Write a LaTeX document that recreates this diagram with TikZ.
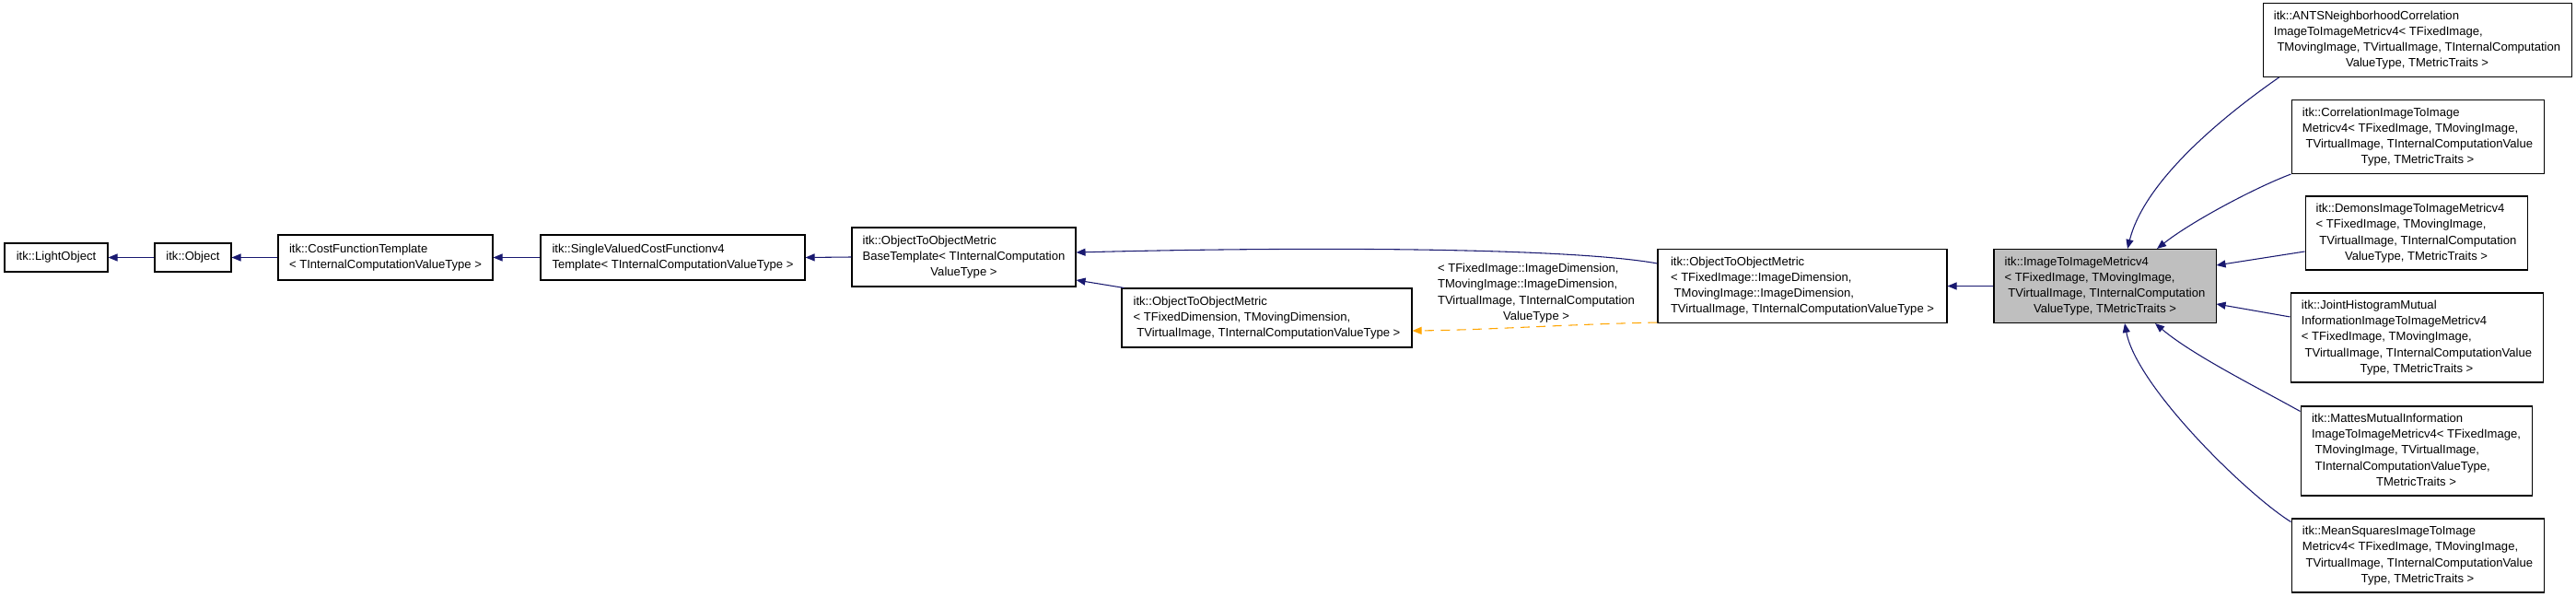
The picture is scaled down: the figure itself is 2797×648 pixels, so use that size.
\documentclass[tikz,border=0pt]{standalone}
\usepackage{fontspec}
\setmainfont{Liberation Sans}
\usetikzlibrary{arrows.meta}
\definecolor{navy}{HTML}{191970}
\definecolor{orng}{HTML}{FFA500}
\definecolor{grayfill}{HTML}{BFBFBF}
\newcommand{\tb}[1]{\begin{tabular}{@{}l@{}}#1\end{tabular}}
\newcommand{\mylast}[1]{\multicolumn{1}{@{}c@{}}{#1}}
\tikzset{
  cls/.style={draw=black, line width=0.8pt, fill=white, inner sep=0pt,
    font=\fontsize{9.8}{12.9}\selectfont},
  sz/.style 2 args={minimum width=#1*0.75pt, minimum height=#2*0.75pt},
  inh/.style={draw=navy, line width=0.8pt, -{Triangle[length=7.5pt,width=6pt]}},
  tmpl/.style={draw=orng, line width=0.8pt, dash pattern=on 7.5pt off 5.5pt,
    -{Triangle[length=7.5pt,width=6pt]}},
  lbl/.style={inner sep=0pt, font=\fontsize{9.8}{12.9}\selectfont}
}
\begin{document}
\begin{tikzpicture}[x=0.75pt,y=-0.75pt]
\useasboundingbox[fill=white] (0,0) rectangle (2797,648);

\node[cls, sz={112}{31}] (light) at (61,279.5) {\tb{itk::LightObject}};
\node[cls, sz={83}{31}] (object) at (209.5,279.5) {\tb{itk::Object}};
\node[cls, sz={233}{49}] (cost) at (418.5,279.5) {\tb{itk::CostFunctionTemplate\\\mylast{< TInternalComputationValueType >}}};
\node[cls, sz={287}{49}] (single) at (730.5,279.5) {\tb{itk::SingleValuedCostFunctionv4\\\mylast{Template< TInternalComputationValueType >}}};
\node[cls, sz={243}{64}] (base) at (1046.5,279) {\tb{itk::ObjectToObjectMetric\\BaseTemplate< TInternalComputation\\\mylast{ValueType >}}};
\node[cls, sz={315}{64}] (otomdim) at (1375.5,345) {\tb{itk::ObjectToObjectMetric\\< TFixedDimension, TMovingDimension,\\\mylast{\ TVirtualImage, TInternalComputationValueType >}}};
\node[cls, sz={314}{80}] (otomimg) at (1957,310.5) {\tb{itk::ObjectToObjectMetric\\< TFixedImage::ImageDimension,\\\ TMovingImage::ImageDimension,\\\mylast{TVirtualImage, TInternalComputationValueType >}}};
\node[cls, sz={241}{80}, fill=grayfill] (img) at (2285.5,310.5) {\tb{itk::ImageToImageMetricv4\\< TFixedImage, TMovingImage,\\\ TVirtualImage, TInternalComputation\\\mylast{ValueType, TMetricTraits >}}};

\node[cls, sz={335}{80}] (ants) at (2624.5,43.5) {\tb{itk::ANTSNeighborhoodCorrelation\\ImageToImageMetricv4< TFixedImage,\\\ TMovingImage, TVirtualImage, TInternalComputation\\\mylast{ValueType, TMetricTraits >}}};
\node[cls, sz={274}{80}] (corr) at (2625,148.5) {\tb{itk::CorrelationImageToImage\\Metricv4< TFixedImage, TMovingImage,\\\ TVirtualImage, TInternalComputationValue\\\mylast{Type, TMetricTraits >}}};
\node[cls, sz={241}{80}] (demons) at (2623.5,253) {\tb{itk::DemonsImageToImageMetricv4\\< TFixedImage, TMovingImage,\\\ TVirtualImage, TInternalComputation\\\mylast{ValueType, TMetricTraits >}}};
\node[cls, sz={274}{97}] (joint) at (2624,366.5) {\tb{itk::JointHistogramMutual\\InformationImageToImageMetricv4\\< TFixedImage, TMovingImage,\\\ TVirtualImage, TInternalComputationValue\\\mylast{Type, TMetricTraits >}}};
\node[cls, sz={251}{97}] (mattes) at (2623.5,489.5) {\tb{itk::MattesMutualInformation\\ImageToImageMetricv4< TFixedImage,\\\ TMovingImage, TVirtualImage,\\\ TInternalComputationValueType,\\\mylast{TMetricTraits >}}};
\node[cls, sz={274}{80}] (mean) at (2625,603) {\tb{itk::MeanSquaresImageToImage\\Metricv4< TFixedImage, TMovingImage,\\\ TVirtualImage, TInternalComputationValue\\\mylast{Type, TMetricTraits >}}};

% inheritance edges
\draw[inh] (object.west) -- (light.east);
\draw[inh] (cost.west) -- (object.east);
\draw[inh] (single.west) -- (cost.east);
\draw[inh] (base.west) -- (single.east);
\draw[inh] ([yshift=18.4pt]otomimg.west) .. controls (1700,268) and (1400,268) .. ([yshift=3.75pt]base.east);
\draw[inh] ([xshift=2.25pt]otomdim.north west) -- ([yshift=-18.75pt]base.east);
\draw[inh] (img.west) -- (otomimg.east);

% template instance
\draw[tmpl] ([yshift=0.75pt]otomimg.south west) .. controls (1700,352) and (1620,358) .. ([yshift=-10.5pt]otomdim.east);
\node[lbl] (tlabel) at (1668,318) {\tb{< TFixedImage::ImageDimension,\\TMovingImage::ImageDimension,\\TVirtualImage, TInternalComputation\\\mylast{ValueType >}}};

% derived classes
\draw[inh] ([xshift=13.5pt]ants.south west) .. controls (2430,115) and (2330,190) .. ([xshift=18.4pt]img.north);
\draw[inh] (corr.south west) .. controls (2450,203) and (2380,240) .. ([xshift=42.4pt]img.north);
\draw[inh] ([yshift=-15pt]demons.west) -- ([yshift=16.9pt]img.east);
\draw[inh] ([yshift=16.9pt]joint.west) -- ([yshift=-14.6pt]img.east);
\draw[inh] ([yshift=-4.5pt]mattes.north west) .. controls (2450,420) and (2380,385) .. ([xshift=40.9pt]img.south);
\draw[inh] ([yshift=-3pt]mean.north west) .. controls (2440,537) and (2320,420) .. ([xshift=16.1pt]img.south);
\end{tikzpicture}
\end{document}
